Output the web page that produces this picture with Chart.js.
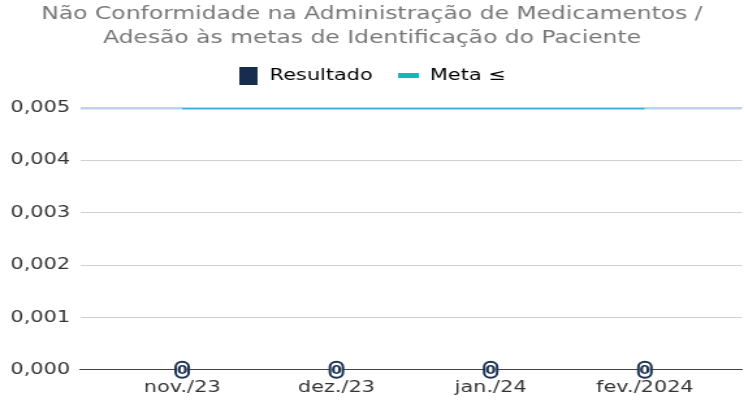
<!DOCTYPE html>
<html>
<head>
<meta charset="utf-8">
<script src="https://cdn.jsdelivr.net/npm/chart.js@4"></script>
<style>
  html, body { margin: 0; padding: 0; background: #fff; overflow: hidden; }
  /* o gráfico original é esticado na horizontal */
  #wrap { width: 572px; height: 403px; transform: scaleX(1.3007); transform-origin: 0 0; }
</style>
</head>
<body>
<div id="wrap"><canvas id="grafico"></canvas></div>
<script>
const categorias = ['nov./23', 'dez./23', 'jan./24', 'fev./2024'];
const resultado = [0, 0, 0, 0];
const meta = [0.005, 0.005, 0.005, 0.005];
const tituloLinhas = ['Não Conformidade na Administração de Medicamentos /', 'Adesão às metas de Identificação do Paciente'];

const X_MIN = -0.66;
const X_MAX = 3.63;
const fonte = 'DejaVu Sans';
const corResultado = '#172d50';
const corMeta = '#3aaed8';
const corMetaLegenda = '#16b3c1';
const corMetaClara = '#b9d1f1';

function formatarNumero(v) {
    return Number(v).toFixed(3).replace('.', ',');
}

function criarSimbolo(largura, altura, cor) {
    const c = document.createElement('canvas');
    c.width = largura;
    c.height = altura;
    const g = c.getContext('2d');
    g.fillStyle = cor;
    g.fillRect(0, 0, largura, altura);
    return c;
}

// meta se estende até as bordas do gráfico (parte clara)
const pontosMeta = [{ x: X_MIN, y: meta[0] }]
    .concat(meta.map((v, i) => ({ x: i, y: v })))
    .concat([{ x: X_MAX, y: meta[meta.length - 1] }]);

const rotulosZero = {
    id: 'rotulosZero',
    afterDatasetsDraw(chart) {
        const ctx = chart.ctx;
        const metaBar = chart.getDatasetMeta(0);
        ctx.save();
        ctx.font = `bold 12px ${fonte}`;
        ctx.textAlign = 'center';
        ctx.textBaseline = 'middle';
        metaBar.data.forEach((el, i) => {
            const x = el.x;
            const y = el.y;
            const w = 10, h = 16;
            ctx.beginPath();
            ctx.roundRect(x - w / 2, y - h / 2, w, h, 5);
            ctx.fillStyle = '#fff';
            ctx.fill();
            ctx.lineWidth = 2;
            ctx.strokeStyle = '#1b3252';
            ctx.stroke();
            ctx.fillStyle = '#1b3252';
            ctx.fillText(String(resultado[i]), x, y + 1);
        });
        ctx.restore();
    }
};

// espaço extra entre a legenda e a área do gráfico
const espacoLegenda = {
    id: 'espacoLegenda',
    beforeInit(chart) {
        const fitOriginal = chart.legend.fit;
        chart.legend.fit = function () {
            fitOriginal.call(this);
            this.height += 14;
        };
    }
};

new Chart(document.getElementById('grafico').getContext('2d'), {
    data: {
        datasets: [
            {
                type: 'bar',
                label: 'Resultado',
                data: resultado.map((v, i) => ({ x: i, y: v })),
                backgroundColor: corResultado,
                order: 2
            },
            {
                type: 'line',
                label: 'Meta ≤',
                data: pontosMeta,
                borderColor: corMeta,
                backgroundColor: corMetaLegenda,
                borderWidth: 3,
                pointRadius: 0,
                fill: false,
                order: 1,
                segment: {
                    borderColor: c => (c.p0DataIndex === 0 || c.p1DataIndex === pontosMeta.length - 1) ? corMetaClara : corMeta
                }
            }
        ]
    },
    plugins: [rotulosZero, espacoLegenda],
    options: {
        responsive: true,
        maintainAspectRatio: false,
        animation: false,
        layout: { padding: { left: 0, right: 0, top: 0, bottom: 6 } },
        plugins: {
            title: {
                display: true,
                text: tituloLinhas,
                color: '#777',
                font: { family: fonte, size: 18, weight: 'normal', lineHeight: 1.33 },
                padding: { top: 2, bottom: -2 }
            },
            legend: {
                position: 'top',
                labels: {
                    usePointStyle: true,
                    color: '#333',
                    font: { family: fonte, size: 16 },
                    padding: 20,
                    boxWidth: 16,
                    generateLabels() {
                        return [
                            { text: 'Resultado', fillStyle: corResultado, lineWidth: 0, pointStyle: criarSimbolo(14, 18, corResultado), datasetIndex: 0 },
                            { text: 'Meta ≤', fillStyle: corMetaLegenda, lineWidth: 0, pointStyle: criarSimbolo(16, 5, corMetaLegenda), datasetIndex: 1 }
                        ];
                    }
                }
            },
            tooltip: { enabled: false }
        },
        scales: {
            x: {
                type: 'linear',
                min: X_MIN,
                max: X_MAX,
                offset: false,
                afterBuildTicks: s => { s.ticks = categorias.map((_, i) => ({ value: i })); },
                ticks: {
                    color: '#333',
                    font: { family: fonte, size: 16 },
                    callback: v => categorias[v] ?? '',
                    padding: 0,
                    maxRotation: 0,
                    autoSkip: false
                },
                grid: { display: false },
                border: { display: true, color: '#444', width: 1 }
            },
            y: {
                min: 0,
                max: 0.005,
                ticks: {
                    stepSize: 0.001,
                    color: '#333',
                    font: { family: fonte, size: 16 },
                    callback: v => formatarNumero(v),
                    padding: 8
                },
                grid: { color: '#d0d0d0', drawTicks: false },
                border: { display: false }
            }
        }
    }
});
</script>
</body>
</html>
